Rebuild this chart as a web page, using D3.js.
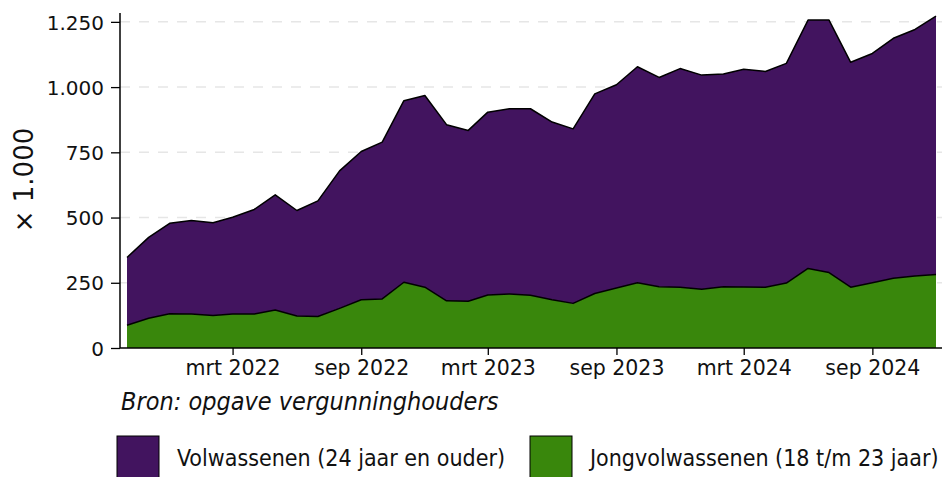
<!DOCTYPE html>
<html>
<head>
<meta charset="utf-8">
<script src="https://cdn.jsdelivr.net/npm/d3@7"></script>
<style>
  body { margin: 0; background: #fff; }
  svg text { fill: #111; }
  .axis text, .ylabel { font-family: "DejaVu Sans", sans-serif; }
  .note, .legend text { font-family: "Liberation Sans Narrow", "DejaVu Sans Condensed", sans-serif; font-stretch: condensed; }
</style>
</head>
<body>
<div id="chart"></div>
<script>
// months, oct 2021 .. dec 2024
var months = d3.timeMonths(new Date(2021, 9, 1), new Date(2025, 0, 1));

// x 1.000
var jongvolwassenen = [87,114,131,130,125,130,130,146,123,121,152,185,188,
  252,233,181,179,203,207,202,185,171,209,230,250,235,
  233,225,235,234,233,249,305,289,233,250,267,276,282];
var volwassenen = [260,310,347,359,355,371,401,441,404,443,527,568,601,
  696,735,675,655,701,710,715,681,669,765,779,828,802,
  838,821,815,834,827,842,952,968,862,879,920,945,990];

var yTicks = [0, 250, 500, 750, 1000, 1250];
var xTicks = [new Date(2022,2,1), new Date(2022,8,1), new Date(2023,2,1),
              new Date(2023,8,1), new Date(2024,2,1), new Date(2024,8,1)];
var keys = ["jong", "volw"];
var labels = { volw: "Volwassenen (24 jaar en ouder)", jong: "Jongvolwassenen (18 t/m 23 jaar)" };
var colors = { volw: "#42145f", jong: "#39870c" };

function init(){
    var w = 942, h = 477;
    var left = 120, right = 942, top = 13, bottom = 348;

    var dataset = months.map(function(m, i){
        return { date: m, jong: jongvolwassenen[i], volw: volwassenen[i] };
    });

    var series = d3.stack().keys(keys)(dataset);

    var x = d3.scaleTime()
        .domain([months[0], months[months.length - 1]])
        .range([127, 936]);

    var y = d3.scaleLinear()
        .domain([0, 1284])
        .range([bottom, top]);

    var nl = d3.formatLocale({ decimal: ",", thousands: ".", grouping: [3], currency: ["€", ""] });
    var fmt = nl.format(",d");

    var svg = d3.select("#chart").append("svg")
        .attr("width", w)
        .attr("height", h);

    // gridlines
    svg.append("g").selectAll("line")
        .data(yTicks.filter(function(d){ return d > 0; }))
        .enter().append("line")
        .attr("x1", left).attr("x2", right)
        .attr("y1", function(d){ return y(d); })
        .attr("y2", function(d){ return y(d); })
        .attr("stroke", "#e6e6e6")
        .attr("stroke-width", 1.5)
        .attr("stroke-dasharray", "10,9");

    var area = d3.area()
        .x(function(d){ return x(d.data.date); })
        .y0(function(d){ return y(d[0]); })
        .y1(function(d){ return y(d[1]); });

    var line = d3.line()
        .x(function(d){ return x(d.data.date); })
        .y(function(d){ return y(d[1]); });

    svg.append("g").selectAll("path")
        .data(series)
        .enter().append("path")
        .attr("d", area)
        .attr("fill", function(d){ return colors[d.key]; });

    svg.append("g").selectAll("path")
        .data(series)
        .enter().append("path")
        .attr("d", line)
        .attr("fill", "none")
        .attr("stroke", "#000")
        .attr("stroke-width", 1.5)
        .attr("stroke-linejoin", "round");

    // y axis
    var yAxis = svg.append("g")
        .attr("class", "axis")
        .attr("transform", "translate(" + left + ",0)")
        .call(d3.axisLeft(y).tickValues(yTicks).tickFormat(fmt).tickSize(9).tickPadding(7));
    yAxis.select(".domain").remove();
    yAxis.selectAll("line").attr("stroke", "#000").attr("stroke-width", 1.3);
    yAxis.selectAll("text").style("font-size", "20px").attr("dy", "0.36em");
    yAxis.append("line")
        .attr("x1", 0).attr("x2", 0).attr("y1", top).attr("y2", bottom)
        .attr("stroke", "#000").attr("stroke-width", 1.5);

    // x axis
    var xAxis = svg.append("g")
        .attr("class", "axis")
        .attr("transform", "translate(0," + bottom + ")")
        .call(d3.axisBottom(x).tickValues(xTicks)
            .tickFormat(function(d){ return (d.getMonth() === 2 ? "mrt " : "sep ") + d.getFullYear(); })
            .tickSize(7).tickPadding(5));
    xAxis.select(".domain").remove();
    xAxis.selectAll("line").attr("stroke", "#000").attr("stroke-width", 1.3);
    xAxis.selectAll("text").style("font-size", "20.5px");
    xAxis.append("line")
        .attr("x1", left).attr("x2", right).attr("y1", 0).attr("y2", 0)
        .attr("stroke", "#000").attr("stroke-width", 1.5);

    // y label
    svg.append("text")
        .attr("class", "ylabel")
        .attr("transform", "translate(33,180) rotate(-90)")
        .attr("text-anchor", "middle")
        .style("font-size", "26px")
        .text("× 1.000");

    // source
    svg.append("text")
        .attr("class", "note")
        .attr("x", 121).attr("y", 410)
        .style("font-size", "25px")
        .style("font-style", "italic")
        .text("Bron: opgave vergunninghouders");

    // legend
    var legendKeys = ["volw", "jong"];
    var legendX = [117, 530];
    var lg = svg.selectAll("g.legend")
        .data(legendKeys)
        .enter().append("g")
        .attr("class", "legend")
        .attr("transform", function(d, i){ return "translate(" + legendX[i] + ",436)"; });
    lg.append("rect")
        .attr("width", 42).attr("height", 50)
        .attr("fill", function(d){ return colors[d]; })
        .attr("stroke", "#000").attr("stroke-width", 1);
    lg.append("text")
        .attr("x", 60).attr("y", 30)
        .style("font-size", "23px")
        .text(function(d){ return labels[d]; });
}
window.onload = init;
</script>
</body>
</html>
